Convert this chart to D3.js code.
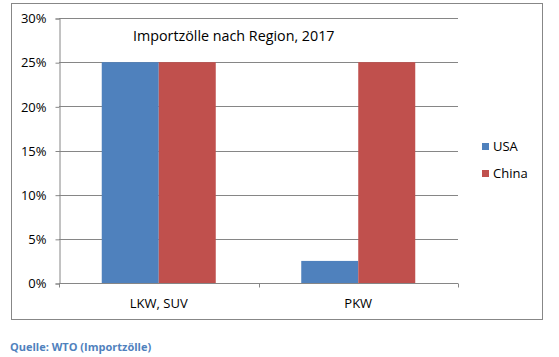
<!DOCTYPE html>
<html><head><meta charset="utf-8">
<script src="https://cdn.jsdelivr.net/npm/d3@7"></script>
<style>body{margin:0;background:#fff;}svg{display:block;font-family:"Open Sans",Lato,sans-serif;}</style>
</head><body>
<script>
const categories = ["LKW, SUV", "PKW"];
const seriesNames = ["USA", "China"];
const usaValues = [25, 2.5];
const chinaValues = [25, 25];
const yTicks = [0, 5, 10, 15, 20, 25, 30];
const title = "Importzölle nach Region, 2017";
const source = "Quelle: WTO (Importzölle)";
const colors = ["#4F81BD", "#C0504D"];

const W = 559, H = 357;
const svg = d3.select("body").append("svg").attr("width", W).attr("height", H);

// outer chart border
svg.append("rect").attr("x", 11.5).attr("y", 3.5).attr("width", 531).attr("height", 316)
  .attr("fill", "#fff").attr("stroke", "#878787").attr("stroke-width", 1);

const x0 = 59, x1 = 458, y0 = 283, y1 = 18;
const x = d3.scaleBand().domain(categories).range([x0, x1]).paddingInner(0).paddingOuter(0);
const y = d3.scaleLinear().domain([0, 30]).range([y0, y1]);
const inner = d3.scaleBand().domain(seriesNames).range([0, x.bandwidth()]).paddingOuter(0.75).paddingInner(0);

// gridlines
svg.append("g").selectAll("line").data(yTicks).join("line")
  .attr("x1", x0).attr("x2", x1)
  .attr("y1", d => Math.round(y(d)) + 0.5).attr("y2", d => Math.round(y(d)) + 0.5)
  .attr("stroke", "#868686").attr("stroke-width", 1);

// y axis
const yAxis = d3.axisLeft(y).tickValues(yTicks).tickFormat(d => d + "%").tickSize(4).tickPadding(9);
const gy = svg.append("g").attr("transform", `translate(${x0 + 0.5},0.5)`).call(yAxis);
gy.select(".domain").attr("stroke", "#868686");
gy.selectAll(".tick line").attr("stroke", "#868686");
gy.selectAll(".tick text").attr("font-size", 13).attr("fill", "#000").attr("font-family", "'Open Sans',sans-serif");

// bars
const data = categories.map((c, i) => ({ cat: c, vals: [usaValues[i], chinaValues[i]] }));
const groups = svg.append("g").selectAll("g").data(data).join("g")
  .attr("transform", d => `translate(${x(d.cat)},0)`);
groups.selectAll("rect").data(d => d.vals.map((v, j) => ({ s: seriesNames[j], v, j })))
  .join("rect")
  .attr("x", d => inner(d.s))
  .attr("width", inner.bandwidth())
  .attr("y", d => y(d.v))
  .attr("height", d => y0 - y(d.v))
  .attr("fill", d => colors[d.j]);

// x axis
const gx = svg.append("g").attr("transform", `translate(0,${y0 + 0.5})`);
gx.append("line").attr("x1", x0).attr("x2", x1).attr("stroke", "#868686");
const bounds = [x0, x0 + x.bandwidth(), x1];
gx.selectAll("line.tk").data(bounds).join("line").attr("class", "tk")
  .attr("x1", d => Math.round(d) + 0.5).attr("x2", d => Math.round(d) + 0.5)
  .attr("y1", 0).attr("y2", 4).attr("stroke", "#868686");
gx.selectAll("text").data(categories).join("text")
  .attr("x", d => x(d) + x.bandwidth() / 2).attr("y", 24)
  .attr("text-anchor", "middle").attr("font-size", 13).attr("fill", "#000")
  .text(d => d);

// title
svg.append("text").attr("x", 133).attr("y", 41).attr("font-size", 14.3).attr("fill", "#000").text(title);

// legend
const lg = svg.append("g").attr("transform", "translate(482,143)");
seriesNames.forEach((s, i) => {
  const g = lg.append("g").attr("transform", `translate(0,${i * 27})`);
  g.append("rect").attr("width", 7).attr("height", 7).attr("fill", colors[i]);
  g.append("text").attr("x", 11).attr("y", 8).attr("font-size", 13).attr("fill", "#000").text(s);
});

// source
svg.append("text").attr("x", 10).attr("y", 351).attr("font-size", 11).attr("font-weight", "bold")
  .attr("fill", "#4F81BD").text(source);
</script>
</body></html>
